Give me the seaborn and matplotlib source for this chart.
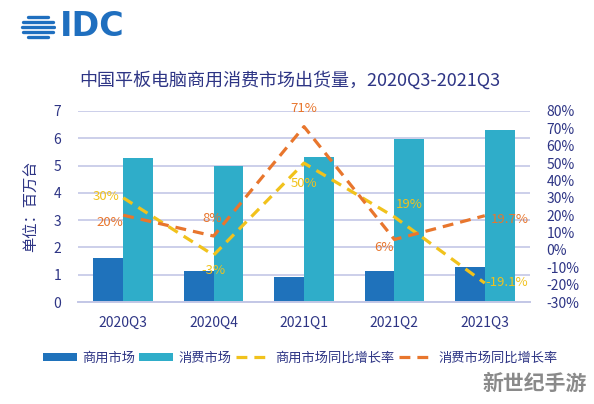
import numpy as np
import pandas as pd
import matplotlib
matplotlib.use("Agg")
import matplotlib.pyplot as plt
import seaborn as sns
from matplotlib.patches import Patch
from matplotlib.lines import Line2D
from matplotlib.ticker import FuncFormatter

# ---- data ----
quarters = ["2020Q3", "2020Q4", "2021Q1", "2021Q2", "2021Q3"]
commercial = [1.6, 1.15, 0.92, 1.14, 1.3]
consumer = [5.28, 4.97, 5.3, 5.98, 6.32]
commercial_growth = [0.30, -0.03, 0.50, 0.19, -0.191]
consumer_growth = [0.20, 0.08, 0.71, 0.06, 0.197]
commercial_labels = ["30%", "-3%", "50%", "19%", "-19.1%"]
consumer_labels = ["20%", "8%", "71%", "6%", "19.7%"]
series_names = ["商用市场", "消费市场", "商用市场同比增长率", "消费市场同比增长率"]

# ---- style ----
sns.set_theme(style="white")
plt.rcParams["font.family"] = ["Noto Sans CJK SC", "DejaVu Sans"]

NAVY = "#2e3585"
C_COM = "#1f72bb"
C_CON = "#2fadc9"
C_YEL = "#f1c21c"
C_ORA = "#e8762d"
GRID = "#c3c7e6"

fig = plt.figure(figsize=(5.94, 4.04), dpi=100)
fig.patch.set_facecolor("white")
ax = fig.add_axes([78 / 594, 1 - 302 / 404, (530 - 78) / 594, (302 - 111) / 404])

df = pd.DataFrame({
    "quarter": quarters * 2,
    "value": commercial + consumer,
    "series": [series_names[0]] * 5 + [series_names[1]] * 5,
})
sns.barplot(data=df, x="quarter", y="value", hue="series",
            palette=[C_COM, C_CON], width=0.66, gap=0, saturation=1,
            legend=False, ax=ax, zorder=2, linewidth=0, edgecolor="none")

ax.set_ylim(0, 7)
ax.set_xlim(-0.5, 4.5)
ax.set_yticks(range(0, 8))
ax.yaxis.grid(True, color=GRID, lw=1.2, zorder=0)
ax.set_axisbelow(True)
for s in ["top", "left", "right"]:
    ax.spines[s].set_visible(False)
ax.spines["bottom"].set_color(GRID)
ax.spines["bottom"].set_linewidth(1.4)
ax.set_xlabel("")
ax.set_ylabel("单位：百万台", color=NAVY, fontsize=11, labelpad=10)
ax.tick_params(axis="both", length=0, colors=NAVY, labelsize=10)
ax.tick_params(axis="y", pad=12)
ax.tick_params(axis="x", pad=10)

ax2 = ax.twinx()
pos = np.arange(len(quarters))
dash = (0, (3.4, 2.2))
sns.lineplot(x=pos, y=commercial_growth, ax=ax2, color=C_YEL, lw=2.3,
             linestyle=dash, zorder=3)
sns.lineplot(x=pos, y=consumer_growth, ax=ax2, color=C_ORA, lw=2.3,
             linestyle=dash, zorder=3)
ax2.set_ylim(-0.3, 0.8)
ax2.set_yticks(np.arange(-0.3, 0.81, 0.1))
ax2.yaxis.set_major_formatter(FuncFormatter(lambda v, p: f"{round(v * 100):d}%"))
ax2.tick_params(axis="y", length=0, colors=NAVY, labelsize=10, pad=12)
for s in ["top", "left", "right", "bottom"]:
    ax2.spines[s].set_visible(False)
ax2.grid(False)
ax2.set_xlim(-0.5, 4.5)

# data labels (pixel offsets from points)
com_off = [(-17, 1), (0, -15), (0, -20), (15, 12), (22, 1)]
con_off = [(-13, -7), (-1, 18), (0, 18), (-10, -8), (25, -4)]
for i in range(5):
    dx, dy = com_off[i]
    ax2.annotate(commercial_labels[i], (pos[i], commercial_growth[i]), xytext=(dx, dy),
                 textcoords="offset pixels", ha="center", va="center", color=C_YEL,
                 fontsize=9.5, zorder=5)
    dx, dy = con_off[i]
    ax2.annotate(consumer_labels[i], (pos[i], consumer_growth[i]), xytext=(dx, dy),
                 textcoords="offset pixels", ha="center", va="center", color=C_ORA,
                 fontsize=9.5, zorder=5)

# title
fig.text(290 / 594, 1 - 80 / 404, "中国平板电脑商用消费市场出货量，2020Q3-2021Q3",
         ha="center", va="center", color=NAVY, fontsize=13)

# legend
handles = [
    Patch(facecolor=C_COM, edgecolor="none"),
    Patch(facecolor=C_CON, edgecolor="none"),
    Line2D([0], [0], color=C_YEL, lw=2.3, linestyle=dash),
    Line2D([0], [0], color=C_ORA, lw=2.3, linestyle=dash),
]
leg = fig.legend(handles, series_names, loc="center", bbox_to_anchor=(300 / 594, 1 - 358 / 404),
                 ncol=4, frameon=False, fontsize=9.5, handlelength=2.6, handleheight=0.6,
                 handletextpad=0.4, columnspacing=0.3)
for t in leg.get_texts():
    t.set_color(NAVY)

# IDC logo: striped globe
lax = fig.add_axes([20 / 594, 1 - 40 / 404, 36 / 594, 26 / 404])
lax.set_xlim(-1.45, 1.45)
lax.set_ylim(-1.05, 1.05)
lax.axis("off")
for yy in [0.78, 0.39, 0.0, -0.39, -0.78]:
    half = np.sqrt(max(1 - yy ** 2, 0)) * 1.3
    lax.plot([-half, half], [yy, yy], color="#1f6fbf", lw=2.4, solid_capstyle="round")
fig.text(60 / 594, 1 - 27 / 404, "IDC", ha="left", va="center", color="#1f6fbf",
         fontsize=24, fontweight="bold", family="DejaVu Sans")

# watermark
fig.text(535 / 594, 1 - 383 / 404, "新世纪手游", ha="center", va="center",
         color="#8a8a8a", fontsize=15, fontweight="bold")

fig.savefig("out.png", dpi=100, facecolor="white")
